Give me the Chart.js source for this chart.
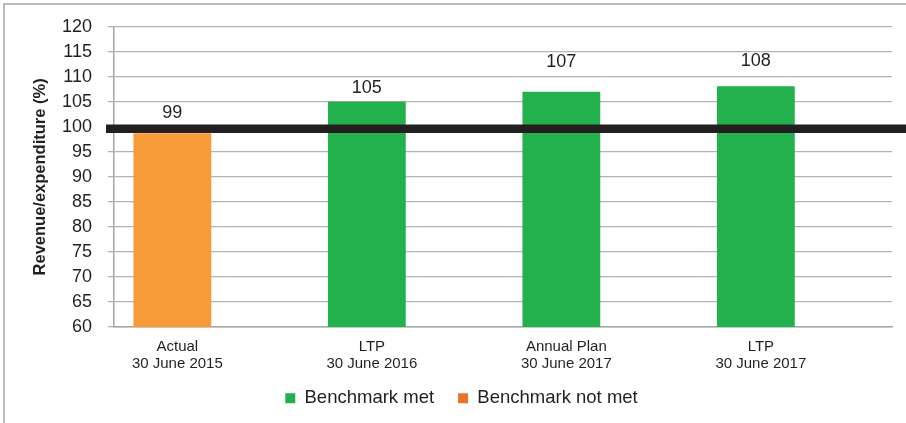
<!DOCTYPE html>
<html>
<head>
<meta charset="utf-8">
<script src="https://cdn.jsdelivr.net/npm/chart.js"></script>
<style>
  html, body { margin: 0; padding: 0; background: #fff; }
  #wrap { width: 906px; height: 423px; position: relative; }
</style>
</head>
<body>
<div id="wrap"><canvas id="chart" width="906" height="423"></canvas></div>
<script>
  // data
  const CATEGORIES = [
    ['Actual', '30 June 2015'],
    ['LTP', '30 June 2016'],
    ['Annual Plan', '30 June 2017'],
    ['LTP', '30 June 2017']
  ];
  const VALUES = [98.7, 105.0, 107.0, 108.1];
  const BENCHMARK = 100;
  const Y_TICKS = [60, 65, 70, 75, 80, 85, 90, 95, 100, 105, 110, 115, 120];
  const LEGEND_LABELS = ['Benchmark met', 'Benchmark not met'];

  const GREEN = '#22b14c';
  const ORANGE_BAR = '#f79a38';
  const ORANGE_KEY = '#e8742a';
  const TEXT = '#231f20';
  const FONT = 'Liberation Sans, Arial, sans-serif';

  // per-bar lift of the value labels (px above bar top), as in the source
  const labelLift = [20, 13.5, 30, 25];

  const frame = {
    id: 'frame',
    beforeDraw(chart) {
      const ctx = chart.ctx;
      ctx.save();
      ctx.strokeStyle = '#a6a6a6';
      ctx.lineWidth = 1.5;
      ctx.beginPath();
      ctx.moveTo(4, chart.height);
      ctx.lineTo(4, 4);
      ctx.lineTo(chart.width, 4);
      ctx.stroke();
      ctx.restore();
    }
  };

  // pull the legend up a little so the two-line x labels keep room
  const legendNudge = {
    id: 'legendNudge',
    afterLayout(chart) {
      if (!chart.legend) return;
      chart.legend.top -= 10;
      chart.legend.bottom -= 10;
    }
  };

  const benchLine = {
    id: 'benchLine',
    afterDatasetsDraw(chart) {
      const ctx = chart.ctx;
      const y = chart.scales.y.getPixelForValue(BENCHMARK) + 2;
      ctx.save();
      ctx.strokeStyle = '#231f20';
      ctx.lineWidth = 8.5;
      ctx.beginPath();
      ctx.moveTo(chart.chartArea.left - 8, y);
      ctx.lineTo(chart.width, y);
      ctx.stroke();
      ctx.restore();
    }
  };

  const valueLabels = {
    id: 'valueLabels',
    afterDatasetsDraw(chart) {
      const ctx = chart.ctx;
      const meta = chart.getDatasetMeta(0);
      ctx.save();
      ctx.font = '18px ' + FONT;
      ctx.fillStyle = TEXT;
      ctx.textAlign = 'center';
      ctx.textBaseline = 'middle';
      meta.data.forEach((bar, i) => {
        ctx.fillText(String(Math.round(VALUES[i])), bar.x, bar.y - labelLift[i]);
      });
      ctx.restore();
    }
  };

  const ctx = document.getElementById('chart').getContext('2d');
  new Chart(ctx, {
    type: 'bar',
    data: {
      datasets: [{
        data: VALUES.map((v, i) => ({ x: i, y: v })),
        backgroundColor: VALUES.map(v => v >= BENCHMARK ? GREEN : ORANGE_BAR),
        borderWidth: 0,
        categoryPercentage: 1,
        barPercentage: 0.4
      }]
    },
    options: {
      responsive: false,
      animation: false,
      layout: { padding: { left: 31, right: 14, top: 25, bottom: 6 } },
      plugins: {
        tooltip: { enabled: false },
        legend: {
          position: 'bottom',
          maxHeight: 42,
          labels: {
            boxWidth: 10,
            boxHeight: 10,
            padding: 24,
            color: TEXT,
            font: { family: FONT, size: 18.5 },
            generateLabels: () => LEGEND_LABELS.map((t, i) => ({
              text: t,
              fillStyle: i === 0 ? GREEN : ORANGE_KEY,
              strokeStyle: 'transparent',
              lineWidth: 0,
              fontColor: TEXT,
              datasetIndex: 0
            }))
          }
        }
      },
      scales: {
        x: {
          type: 'linear',
          offset: false,
          min: -0.3,
          max: 3.7,
          afterFit(scale) { scale.height = 48; },
          afterBuildTicks(scale) { scale.ticks = CATEGORIES.map((c, i) => ({ value: i })); },
          grid: { display: false, drawTicks: false },
          border: { display: true, color: '#a6a6a6', width: 1.5 },
          ticks: {
            autoSkip: false,
            maxRotation: 0,
            padding: 11,
            labelOffset: 5,
            color: TEXT,
            font: { family: FONT, size: 15, lineHeight: 1.15 },
            callback: (v) => CATEGORIES[v]
          }
        },
        y: {
          min: 60,
          max: 120,
          afterFit(scale) { scale.width = 83; },
          afterBuildTicks(scale) { scale.ticks = Y_TICKS.map(v => ({ value: v })); },
          grid: { color: '#b3b3b3', lineWidth: 1.3, tickLength: 6 },
          border: { display: true, color: '#a6a6a6', width: 1.5 },
          ticks: {
            padding: 16,
            color: TEXT,
            font: { family: FONT, size: 18 }
          },
          title: {
            display: true,
            text: 'Revenue/expenditure (%)',
            color: TEXT,
            padding: { top: 0, bottom: 0 },
            font: { family: FONT, size: 16.5, weight: 'bold' }
          }
        }
      }
    },
    plugins: [frame, legendNudge, benchLine, valueLabels]
  });
</script>
</body>
</html>
